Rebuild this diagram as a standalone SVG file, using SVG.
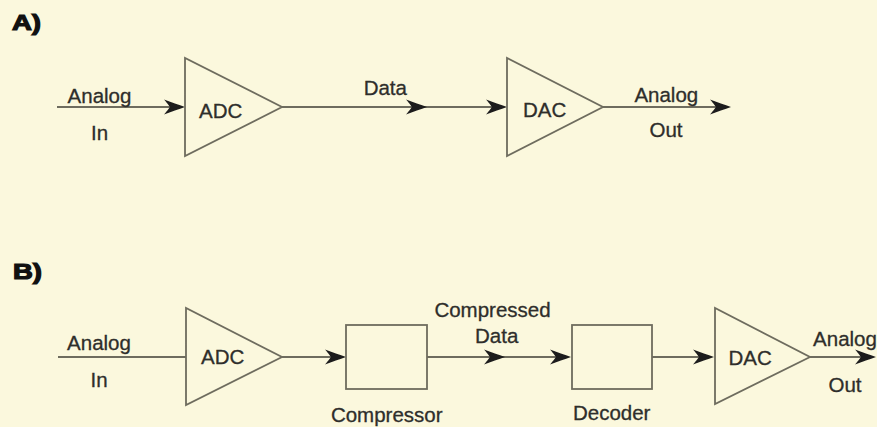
<svg xmlns="http://www.w3.org/2000/svg" xmlns:xlink="http://www.w3.org/1999/xlink" width="877" height="427" viewBox="0 0 877 427">
  <style>
    .bg { fill: #fbf8dd; }
    .shape { fill: none; stroke: #6e6c5e; stroke-width: 1.8; stroke-linejoin: miter; }
    .wire { fill: none; stroke: #6e6c5e; stroke-width: 1.8; }
    .ah { fill: #1c1c1c; }
    .t { font-family: "Liberation Sans", Arial, sans-serif; font-size: 20.5px; fill: #2e2e2b; stroke: #2e2e2b; stroke-width: 0.3; }
    .c { text-anchor: middle; }
    .hdr { font-family: "Liberation Sans", Arial, sans-serif; font-weight: 700; font-size: 22px; fill: #111; stroke: #111; stroke-width: 1.2; }
  </style>
  <defs>
    <path id="arrow" d="M0,0 C-6,-2 -14,-5 -21,-7.5 C-17,-3 -16,-1 -15,0 C-16,1 -17,3 -21,7.5 C-14,5 -6,2 0,0 Z"/>
  </defs>
  <rect class="bg" x="0" y="0" width="877" height="427"/>

  <!-- Panel labels -->
  <text class="hdr" x="12" y="30" textLength="29" lengthAdjust="spacingAndGlyphs">A)</text>
  <text class="hdr" x="13" y="278.5" textLength="29" lengthAdjust="spacingAndGlyphs">B)</text>

  <!-- Connectors -->
  <g id="connectors">
    <line class="wire" x1="57" y1="107" x2="180" y2="107"/>
    <use xlink:href="#arrow" href="#arrow" class="ah" x="185" y="107"/>
    <line class="wire" x1="282" y1="107" x2="502" y2="107"/>
    <use xlink:href="#arrow" href="#arrow" class="ah" x="427" y="107"/>
    <use xlink:href="#arrow" href="#arrow" class="ah" x="507" y="107"/>
    <line class="wire" x1="603" y1="107" x2="726" y2="107"/>
    <use xlink:href="#arrow" href="#arrow" class="ah" x="731" y="107"/>

    <line class="wire" x1="58" y1="357" x2="186" y2="357"/>
    <line class="wire" x1="282" y1="357" x2="341" y2="357"/>
    <use xlink:href="#arrow" href="#arrow" class="ah" x="346" y="357"/>
    <line class="wire" x1="427" y1="357" x2="566" y2="357"/>
    <use xlink:href="#arrow" href="#arrow" class="ah" x="505" y="357"/>
    <use xlink:href="#arrow" href="#arrow" class="ah" x="571" y="357"/>
    <line class="wire" x1="652" y1="357" x2="709" y2="357"/>
    <use xlink:href="#arrow" href="#arrow" class="ah" x="714" y="357"/>
    <line class="wire" x1="810" y1="357" x2="871" y2="357"/>
    <use xlink:href="#arrow" href="#arrow" class="ah" x="876" y="357"/>
  </g>

  <!-- Panel A nodes -->
  <g id="adc-a">
    <polygon class="shape" points="185,58 185,156 282,107"/>
    <text class="t" x="199" y="118">ADC</text>
  </g>
  <g id="dac-a">
    <polygon class="shape" points="507,58 507,156 603,107"/>
    <text class="t" x="523" y="117">DAC</text>
  </g>

  <!-- Panel B nodes -->
  <g id="adc-b">
    <polygon class="shape" points="186,308 186,405 282,357"/>
    <text class="t" x="201" y="364">ADC</text>
  </g>
  <g id="compressor">
    <rect class="shape" x="346" y="325" width="81" height="64"/>
    <text class="t c" x="386.7" y="421.5">Compressor</text>
  </g>
  <g id="decoder">
    <rect class="shape" x="572" y="325" width="80" height="64"/>
    <text class="t c" x="611.7" y="420">Decoder</text>
  </g>
  <g id="dac-b">
    <polygon class="shape" points="715,308 715,404 810,357"/>
    <text class="t" x="728.5" y="365">DAC</text>
  </g>

  <!-- Connector labels -->
  <g id="labels">
    <text class="t c" x="99.5" y="103">Analog</text>
    <text class="t c" x="99.5" y="139.5">In</text>
    <text class="t c" x="385.3" y="95">Data</text>
    <text class="t c" x="666.3" y="102">Analog</text>
    <text class="t c" x="666" y="137">Out</text>

    <text class="t c" x="99" y="350">Analog</text>
    <text class="t c" x="99" y="387">In</text>
    <text class="t c" x="492.5" y="316.7">Compressed</text>
    <text class="t c" x="496.7" y="343.3">Data</text>
    <text class="t c" x="845" y="346">Analog</text>
    <text class="t c" x="845" y="392">Out</text>
  </g>
</svg>
